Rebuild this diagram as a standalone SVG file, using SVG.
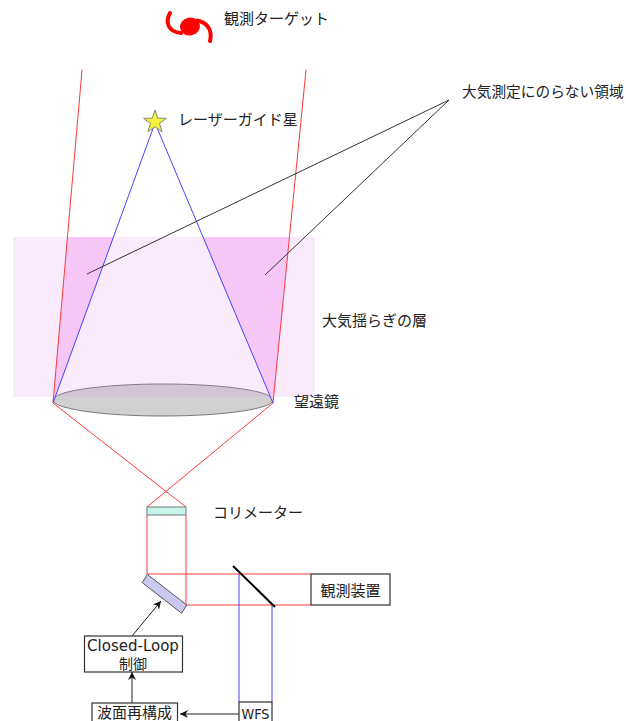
<svg xmlns="http://www.w3.org/2000/svg" width="626" height="721" viewBox="0 0 626 721">
  <style>
    .lbl { font-family: "DejaVu Sans", "Noto Sans CJK JP", sans-serif; font-size: 15px; fill: #222; }
    .box { fill: #fff; stroke: #333; stroke-width: 1.2; }
    .red { stroke: #ff3a3a; stroke-width: 1; fill: none; }
    .blue { stroke: #4444ff; stroke-width: 1; fill: none; }
    .ptr { stroke: #333; stroke-width: 1; fill: none; }
    .arr { stroke: #222; stroke-width: 1; fill: none; marker-end: url(#head); }
  </style>
  <defs>
    <marker id="head" markerUnits="userSpaceOnUse" markerWidth="12" markerHeight="10" viewBox="-9 -5 10 10" refX="0" refY="0" orient="auto">
      <path d="M0,0 L-8,-4 L-5.5,0 L-8,4 Z" fill="#111"/>
    </marker>
  </defs>

  <!-- telescope primary mirror (under the turbulent layer) -->
  <g id="telescope">
    <ellipse cx="163" cy="400" rx="110" ry="16" fill="#d0d0d0" stroke="#7a7a7a" stroke-width="1"/>
  </g>

  <!-- turbulent atmospheric layer -->
  <g id="layer">
    <rect x="13" y="237" width="302" height="160" fill="rgb(220,138,232)" fill-opacity="0.17"/>
    <polygon points="67.5,237 113.7,237 53,403" fill="#f5c6f6"/>
    <polygon points="202.8,237 289.5,237 273,403" fill="#f5c6f6"/>
  </g>

  <g id="connectors">
    <!-- science target light -->
    <line class="red" x1="82" y1="70" x2="53" y2="403"/>
    <line class="red" x1="306" y1="70" x2="273" y2="403"/>
    <!-- guide star cone -->
    <line class="blue" x1="155" y1="123" x2="53" y2="403"/>
    <line class="blue" x1="155" y1="123" x2="273" y2="403"/>
    <!-- focus to collimator -->
    <line class="red" x1="53" y1="403" x2="186" y2="507"/>
    <line class="red" x1="273" y1="403" x2="147" y2="507"/>
    <!-- collimated beam -->
    <line class="red" x1="147" y1="515" x2="147" y2="574"/>
    <line class="red" x1="186" y1="515" x2="186" y2="605"/>
    <line class="red" x1="147" y1="574" x2="311" y2="574"/>
    <line class="red" x1="186" y1="605" x2="311" y2="605"/>
    <!-- beam to wavefront sensor -->
    <line class="blue" x1="239" y1="574" x2="239" y2="702"/>
    <line class="blue" x1="272" y1="605" x2="272" y2="702"/>
    <!-- annotation pointers -->
    <line class="ptr" x1="449" y1="100" x2="87" y2="274"/>
    <line class="ptr" x1="449" y1="100" x2="265" y2="275"/>
    <!-- control loop -->
    <line class="arr" x1="239" y1="714" x2="180" y2="714"/>
    <line class="arr" x1="132" y1="703" x2="132" y2="672"/>
    <line class="arr" x1="132" y1="636" x2="161" y2="601"/>
  </g>

  <g id="target">
    <ellipse cx="190" cy="26.5" rx="10" ry="9" fill="#ff0000" transform="rotate(-10 190 26.5)"/>
    <path d="M170,13 C165,22 168,32 181,33" stroke="#ff0000" stroke-width="4" fill="none" stroke-linecap="round"/>
    <path d="M197,20.5 C206,22 213,29 210,41" stroke="#ff0000" stroke-width="4" fill="none" stroke-linecap="round"/>
    <text class="lbl" x="224" y="24">観測ターゲット</text>
  </g>

  <g id="guide-star">
    <polygon points="155,110 157.8,118.2 166.4,118.3 159.5,123.5 162.1,131.7 155,126.8 147.9,131.7 150.5,123.5 143.6,118.3 152.2,118.2" fill="#f4ef3a" stroke="#888" stroke-width="1"/>
    <text class="lbl" x="178" y="125">レーザーガイド星</text>
  </g>

  <g id="unmeasured-label">
    <text class="lbl" x="462" y="97" style="font-size:14.7px">大気測定にのらない領域</text>
  </g>

  <g id="layer-label">
    <text class="lbl" x="322" y="326">大気揺らぎの層</text>
  </g>

  <g id="telescope-label">
    <text class="lbl" x="294" y="407">望遠鏡</text>
  </g>

  <g id="collimator">
    <rect x="147" y="507" width="39" height="8" fill="#c8f5ea" stroke="#777" stroke-width="1"/>
    <text class="lbl" x="213" y="518">コリメーター</text>
  </g>

  <g id="deformable-mirror">
    <polygon points="147.3,574.3 142.3,582.7 181.7,613.3 186.7,605" fill="#c8c8f0" stroke="#555" stroke-width="1"/>
  </g>

  <g id="beam-splitter">
    <line x1="233" y1="566" x2="275" y2="607" stroke="#000" stroke-width="2"/>
  </g>

  <g id="instrument">
    <rect class="box" x="311" y="574" width="79" height="31"/>
    <text class="lbl" x="350.5" y="596" text-anchor="middle">観測装置</text>
  </g>

  <g id="closed-loop">
    <rect class="box" x="84.5" y="636" width="98" height="36"/>
    <text class="lbl" x="133" y="650.5" text-anchor="middle">Closed-Loop</text>
    <text class="lbl" x="133" y="669" text-anchor="middle" style="font-size:14px">制御</text>
  </g>

  <g id="reconstruction">
    <rect class="box" x="92" y="703" width="85.5" height="25"/>
    <text class="lbl" x="134.5" y="717.5" text-anchor="middle" style="font-size:15px">波面再構成</text>
  </g>

  <g id="wfs">
    <rect class="box" x="239" y="702" width="33" height="26"/>
    <text class="lbl" x="255.5" y="718.5" text-anchor="middle" style="font-size:13.5px" textLength="28" lengthAdjust="spacingAndGlyphs">WFS</text>
  </g>
</svg>
